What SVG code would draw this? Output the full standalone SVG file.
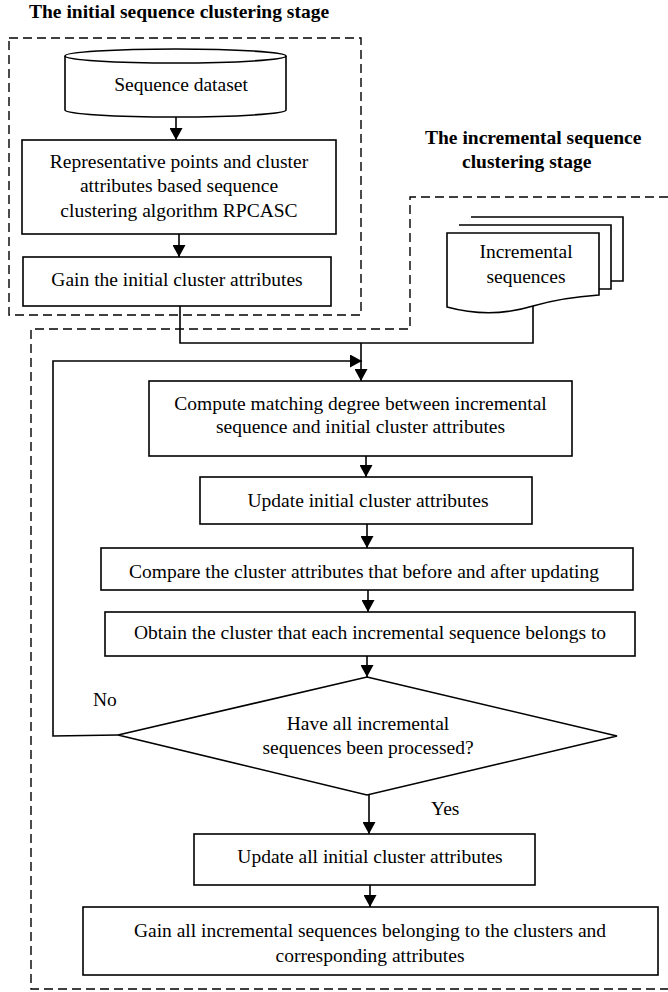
<svg xmlns="http://www.w3.org/2000/svg" width="668" height="992" viewBox="0 0 668 992">
<style>
  .t{font-family:"Liberation Serif","Times New Roman",serif;font-size:19.5px;fill:#000;text-anchor:middle}
  .b{font-weight:bold;text-anchor:start}
  .s{text-anchor:start}
  .box{fill:#fff;stroke:#000;stroke-width:1.6}
  .dash{fill:none;stroke:#000;stroke-width:1.4;stroke-dasharray:9,5}
  .ln{fill:none;stroke:#000;stroke-width:1.6}
</style>
<defs>
  <marker id="ah" markerUnits="userSpaceOnUse" markerWidth="13" markerHeight="13" refX="12" refY="6.5" orient="auto">
    <path d="M0,0 L12,6.5 L0,13 z" fill="#000"/>
  </marker>
</defs>
<rect width="668" height="992" fill="#fff"/>

<g id="stage-titles">
  <text class="t b" x="29" y="18">The initial sequence clustering stage</text>
  <text class="t b" x="425" y="144">The incremental sequence</text>
  <text class="t b" x="462" y="168">clustering stage</text>
</g>

<g id="stage-frames">
  <rect class="dash" x="9" y="38" width="352" height="277"/>
  <path class="dash" d="M668,197 H410 V329 H31 V989 H668"/>
</g>

<g id="connectors">
  <path class="ln" d="M176,117 V140" marker-end="url(#ah)"/>
  <path class="ln" d="M179,234 V257" marker-end="url(#ah)"/>
  <path class="ln" d="M180,306 V343 H533 V305"/>
  <path class="ln" d="M361,343 V381" marker-end="url(#ah)"/>
  <path class="ln" d="M118,735 L53,736 V361 H362" marker-end="url(#ah)"/>
  <path class="ln" d="M366,456 V477" marker-end="url(#ah)"/>
  <path class="ln" d="M367,524 V548" marker-end="url(#ah)"/>
  <path class="ln" d="M368,590 V612" marker-end="url(#ah)"/>
  <path class="ln" d="M367,656 V677" marker-end="url(#ah)"/>
  <path class="ln" d="M369,795 V834" marker-end="url(#ah)"/>
  <path class="ln" d="M370,885 V907" marker-end="url(#ah)"/>
  <text class="t s" x="93" y="706">No</text>
  <text class="t s" x="431" y="815">Yes</text>
</g>

<g id="sequence-dataset">
  <path class="box" d="M65,56 V110 A110.5,7 0 0 0 286,110 V56"/>
  <ellipse class="box" cx="175.5" cy="56" rx="110.5" ry="7"/>
  <text class="t" x="181" y="91">Sequence dataset</text>
</g>

<g id="rpcasc">
  <rect class="box" x="22" y="140" width="314" height="94"/>
  <text class="t" x="179" y="168">Representative points and cluster</text>
  <text class="t" x="179" y="192">attributes based sequence</text>
  <text class="t" x="179" y="217">clustering algorithm RPCASC</text>
</g>

<g id="gain-initial">
  <rect class="box" x="23" y="257" width="308" height="49"/>
  <text class="t" x="177" y="286">Gain the initial cluster attributes</text>
</g>

<g id="incremental-sequences">
  <path class="box" d="M471,217 H623 V281 H611"/>
  <path class="box" d="M459,225 H611 V289 H599"/>
  <path class="box" d="M447,233 H599 V295 C570,297 550,301 533,306 C510,313 480,316 447,307 Z"/>
  <text class="t" x="526" y="258">Incremental</text>
  <text class="t" x="526" y="283">sequences</text>
</g>

<g id="compute">
  <rect class="box" x="149" y="381" width="423" height="75"/>
  <text class="t" x="360.5" y="410">Compute matching degree between incremental</text>
  <text class="t" x="360.5" y="433">sequence and initial cluster attributes</text>
</g>

<g id="update">
  <rect class="box" x="200" y="477" width="332" height="47"/>
  <text class="t" x="368" y="507">Update initial cluster attributes</text>
</g>

<g id="compare">
  <rect class="box" x="101" y="548" width="532" height="42"/>
  <text class="t" x="364" y="578">Compare the cluster attributes that before and after updating</text>
</g>

<g id="obtain">
  <rect class="box" x="105" y="612" width="530" height="44"/>
  <text class="t" x="370" y="639">Obtain the cluster that each incremental sequence belongs to</text>
</g>

<g id="decision">
  <polygon class="box" points="367,677 617,736 367,795 118,735"/>
  <text class="t" x="368" y="729.5">Have all incremental</text>
  <text class="t" x="368" y="754">sequences been processed?</text>
</g>

<g id="update-all">
  <rect class="box" x="194" y="834" width="341" height="51"/>
  <text class="t" x="370" y="863">Update all initial cluster attributes</text>
</g>

<g id="gain-all">
  <rect class="box" x="83" y="907" width="575" height="68"/>
  <text class="t" x="370" y="937">Gain all incremental sequences belonging to the clusters and</text>
  <text class="t" x="370" y="962">corresponding attributes</text>
</g>
</svg>
